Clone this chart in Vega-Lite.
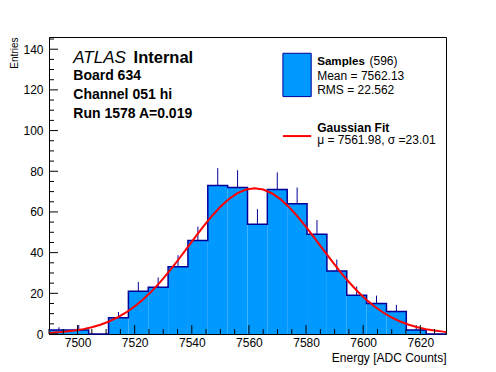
{
  "$schema": "https://vega.github.io/schema/vega-lite/v6.json",
  "width": 397,
  "height": 297,
  "autosize": "none",
  "padding": {"left": 49, "top": 37, "right": 50, "bottom": 38},
  "background": "white",
  "config": {
    "view": {"stroke": "black", "strokeWidth": 1},
    "axis": {"grid": false, "ticks": false, "domainColor": "black", "labelColor": "black", "labelFont": "Liberation Sans", "labelFontSize": 12, "titleFont": "Liberation Sans", "titleFontSize": 12, "titleFontWeight": "normal", "titleColor": "black"},
    "text": {"font": "Liberation Sans", "fontSize": 12, "align": "left", "baseline": "alphabetic", "color": "black"}
  },
  "datasets": {
    "hist": [
      {"x0": 7490, "x1": 7496.95, "c": 7493.475, "n": 2, "hi": 3.3},
      {"x0": 7496.95, "x1": 7503.9, "c": 7500.425, "n": 2, "hi": 4.4},
      {"x0": 7503.9, "x1": 7510.85, "c": 7507.375, "n": 0, "hi": 0},
      {"x0": 7510.85, "x1": 7517.8, "c": 7514.325, "n": 8, "hi": 10.83},
      {"x0": 7517.8, "x1": 7524.75, "c": 7521.275, "n": 21, "hi": 25.58},
      {"x0": 7524.75, "x1": 7531.7, "c": 7528.225, "n": 23, "hi": 27.8},
      {"x0": 7531.7, "x1": 7538.65, "c": 7535.175, "n": 33, "hi": 38.74},
      {"x0": 7538.65, "x1": 7545.6, "c": 7542.125, "n": 46, "hi": 52.78},
      {"x0": 7545.6, "x1": 7552.55, "c": 7549.075, "n": 73, "hi": 81.54},
      {"x0": 7552.55, "x1": 7559.5, "c": 7556.025, "n": 72, "hi": 80.49},
      {"x0": 7559.5, "x1": 7566.45, "c": 7562.975, "n": 54, "hi": 61.35},
      {"x0": 7566.45, "x1": 7573.4, "c": 7569.925, "n": 71, "hi": 79.43},
      {"x0": 7573.4, "x1": 7580.35, "c": 7576.875, "n": 64, "hi": 72.0},
      {"x0": 7580.35, "x1": 7587.3, "c": 7583.825, "n": 49, "hi": 56.0},
      {"x0": 7587.3, "x1": 7594.25, "c": 7590.775, "n": 31, "hi": 36.57},
      {"x0": 7594.25, "x1": 7601.2, "c": 7597.725, "n": 19, "hi": 23.36},
      {"x0": 7601.2, "x1": 7608.15, "c": 7604.675, "n": 15, "hi": 18.87},
      {"x0": 7608.15, "x1": 7615.1, "c": 7611.625, "n": 11, "hi": 14.32},
      {"x0": 7615.1, "x1": 7622.05, "c": 7618.575, "n": 2, "hi": 4.4},
      {"x0": 7622.05, "x1": 7629, "c": 7625.525, "n": 0, "hi": 0}
    ],
    "steps": [
      {"e": 7490, "n": 2}, {"e": 7496.95, "n": 2}, {"e": 7503.9, "n": 0}, {"e": 7510.85, "n": 8},
      {"e": 7517.8, "n": 21}, {"e": 7524.75, "n": 23}, {"e": 7531.7, "n": 33}, {"e": 7538.65, "n": 46},
      {"e": 7545.6, "n": 73}, {"e": 7552.55, "n": 72}, {"e": 7559.5, "n": 54}, {"e": 7566.45, "n": 71},
      {"e": 7573.4, "n": 64}, {"e": 7580.35, "n": 49}, {"e": 7587.3, "n": 31}, {"e": 7594.25, "n": 19},
      {"e": 7601.2, "n": 15}, {"e": 7608.15, "n": 11}, {"e": 7615.1, "n": 2}, {"e": 7622.05, "n": 0},
      {"e": 7629, "n": 0}
    ],
    "fit": [
      {"x": 7490, "y": 0.537}, {"x": 7493, "y": 0.8}, {"x": 7496, "y": 1.173}, {"x": 7499, "y": 1.691},
      {"x": 7502, "y": 2.396}, {"x": 7505, "y": 3.336}, {"x": 7508, "y": 4.569}, {"x": 7511, "y": 6.151},
      {"x": 7514, "y": 8.142}, {"x": 7517, "y": 10.595}, {"x": 7520, "y": 13.554}, {"x": 7523, "y": 17.051},
      {"x": 7526, "y": 21.086}, {"x": 7529, "y": 25.633}, {"x": 7532, "y": 30.638}, {"x": 7535, "y": 36.005},
      {"x": 7538, "y": 41.6}, {"x": 7541, "y": 47.248}, {"x": 7544, "y": 52.76}, {"x": 7547, "y": 57.927},
      {"x": 7550, "y": 62.526}, {"x": 7553, "y": 66.35}, {"x": 7556, "y": 69.222}, {"x": 7559, "y": 71.002},
      {"x": 7562, "y": 71.6}, {"x": 7565, "y": 70.987}, {"x": 7568, "y": 69.191}, {"x": 7571, "y": 66.305},
      {"x": 7574, "y": 62.468}, {"x": 7577, "y": 57.862}, {"x": 7580, "y": 52.69}, {"x": 7583, "y": 47.171},
      {"x": 7586, "y": 41.524}, {"x": 7589, "y": 35.932}, {"x": 7592, "y": 30.57}, {"x": 7595, "y": 25.571},
      {"x": 7598, "y": 21.027}, {"x": 7601, "y": 17.0}, {"x": 7604, "y": 13.512}, {"x": 7607, "y": 10.557},
      {"x": 7610, "y": 8.112}, {"x": 7613, "y": 6.129}, {"x": 7616, "y": 4.551}, {"x": 7619, "y": 3.322},
      {"x": 7622, "y": 2.385}, {"x": 7625, "y": 1.683}, {"x": 7628, "y": 1.167}, {"x": 7629, "y": 1.029}
    ],
    "xmajor": [{"v": 7500}, {"v": 7520}, {"v": 7540}, {"v": 7560}, {"v": 7580}, {"v": 7600}, {"v": 7620}],
    "xminor": [{"v": 7490}, {"v": 7495}, {"v": 7505}, {"v": 7510}, {"v": 7515}, {"v": 7525}, {"v": 7530}, {"v": 7535}, {"v": 7545}, {"v": 7550}, {"v": 7555}, {"v": 7565}, {"v": 7570}, {"v": 7575}, {"v": 7585}, {"v": 7590}, {"v": 7595}, {"v": 7605}, {"v": 7610}, {"v": 7615}, {"v": 7625}],
    "ymajor": [{"v": 0}, {"v": 20}, {"v": 40}, {"v": 60}, {"v": 80}, {"v": 100}, {"v": 120}, {"v": 140}],
    "yminor": [{"v": 5}, {"v": 10}, {"v": 15}, {"v": 25}, {"v": 30}, {"v": 35}, {"v": 45}, {"v": 50}, {"v": 55}, {"v": 65}, {"v": 70}, {"v": 75}, {"v": 85}, {"v": 90}, {"v": 95}, {"v": 105}, {"v": 110}, {"v": 115}, {"v": 125}, {"v": 130}, {"v": 135}, {"v": 145}],
    "boldnotes": [
      {"x": 7519.6, "y": 133.1, "t": "Internal", "s": 16.5},
      {"x": 7498.5, "y": 124.9, "t": "Board 634", "s": 14},
      {"x": 7498.5, "y": 115.4, "t": "Channel 051 hi", "s": 14},
      {"x": 7498.5, "y": 106.0, "t": "Run 1578 A=0.019", "s": 14},
      {"x": 7583.9, "y": 132.2, "t": "Samples", "s": 11.6},
      {"x": 7583.9, "y": 99.2, "t": "Gaussian Fit", "s": 12}
    ],
    "plainnotes": [
      {"x": 7602.2, "y": 132.2, "t": "(596)"},
      {"x": 7583.9, "y": 124.9, "t": "Mean = 7562.13"},
      {"x": 7583.9, "y": 118.0, "t": "RMS = 22.562"},
      {"x": 7583.9, "y": 93.4, "t": "μ = 7561.98, σ =23.01"}
    ],
    "italicnotes": [
      {"x": 7498.5, "y": 133.1, "t": "ATLAS"}
    ],
    "legbox": [{"x0": 7571.9, "x1": 7581.8, "y0": 116.7, "y1": 138.0}],
    "legline": [{"x0": 7571.9, "x1": 7581.8, "y": 97.3}]
  },
  "layer": [
    {
      "data": {"name": "hist"},
      "mark": {"type": "rect", "fill": "#0099ff", "stroke": null},
      "encoding": {
        "x": {"field": "x0", "type": "quantitative", "scale": {"domain": [7490, 7629], "nice": false, "zero": false},
          "axis": {"orient": "bottom", "title": "Energy [ADC Counts]", "titleAnchor": "end", "titleAlign": "right", "titlePadding": 4,
            "values": [7500, 7520, 7540, 7560, 7580, 7600, 7620], "format": "d", "labelFlush": false, "labelPadding": 3}},
        "x2": {"field": "x1"},
        "y": {"field": "n", "type": "quantitative", "scale": {"domain": [0, 146], "nice": false},
          "axis": {"orient": "left", "title": "Entries", "titleAnchor": "end", "titlePadding": 3, "titleFontSize": 10,
            "values": [0, 20, 40, 60, 80, 100, 120, 140], "labelFlush": false, "labelPadding": 6}},
        "y2": {"datum": 0}
      }
    },
    {
      "data": {"name": "steps"},
      "mark": {"type": "line", "interpolate": "step-after", "color": "#000099", "strokeWidth": 1.5},
      "encoding": {"x": {"field": "e", "type": "quantitative"}, "y": {"field": "n", "type": "quantitative"}}
    },
    {
      "data": {"name": "hist"},
      "transform": [{"filter": "datum.n > 0"}],
      "mark": {"type": "rule", "color": "#000099", "strokeWidth": 1},
      "encoding": {"x": {"field": "c", "type": "quantitative"}, "y": {"field": "n", "type": "quantitative"}, "y2": {"field": "hi"}}
    },
    {
      "data": {"name": "fit"},
      "mark": {"type": "line", "color": "#ff0000", "strokeWidth": 2},
      "encoding": {"x": {"field": "x", "type": "quantitative"}, "y": {"field": "y", "type": "quantitative"}}
    },
    {
      "data": {"name": "xmajor"},
      "mark": {"type": "rule", "color": "black", "strokeWidth": 1},
      "encoding": {"x": {"field": "v", "type": "quantitative"}, "y": {"datum": 0, "type": "quantitative"}, "y2": {"datum": 4.4}}
    },
    {
      "data": {"name": "xminor"},
      "mark": {"type": "rule", "color": "black", "strokeWidth": 1},
      "encoding": {"x": {"field": "v", "type": "quantitative"}, "y": {"datum": 0, "type": "quantitative"}, "y2": {"datum": 2.45}}
    },
    {
      "data": {"name": "ymajor"},
      "mark": {"type": "rule", "color": "black", "strokeWidth": 1},
      "encoding": {"y": {"field": "v", "type": "quantitative"}, "x": {"datum": 7490, "type": "quantitative"}, "x2": {"datum": 7493.15}}
    },
    {
      "data": {"name": "yminor"},
      "mark": {"type": "rule", "color": "black", "strokeWidth": 1},
      "encoding": {"y": {"field": "v", "type": "quantitative"}, "x": {"datum": 7490, "type": "quantitative"}, "x2": {"datum": 7491.75}}
    },
    {
      "data": {"name": "legbox"},
      "mark": {"type": "rect", "fill": "#0099ff", "stroke": "#000099", "strokeWidth": 1},
      "encoding": {"x": {"field": "x0", "type": "quantitative"}, "x2": {"field": "x1"}, "y": {"field": "y0", "type": "quantitative"}, "y2": {"field": "y1"}}
    },
    {
      "data": {"name": "legline"},
      "mark": {"type": "rule", "color": "#ff0000", "strokeWidth": 2},
      "encoding": {"x": {"field": "x0", "type": "quantitative"}, "x2": {"field": "x1"}, "y": {"field": "y", "type": "quantitative"}}
    },
    {
      "data": {"name": "boldnotes"},
      "mark": {"type": "text", "fontWeight": "bold"},
      "encoding": {
        "x": {"field": "x", "type": "quantitative"},
        "y": {"field": "y", "type": "quantitative"},
        "text": {"field": "t"},
        "size": {"field": "s", "type": "quantitative", "scale": null}
      }
    },
    {
      "data": {"name": "plainnotes"},
      "mark": {"type": "text", "fontSize": 12},
      "encoding": {
        "x": {"field": "x", "type": "quantitative"},
        "y": {"field": "y", "type": "quantitative"},
        "text": {"field": "t"}
      }
    },
    {
      "data": {"name": "italicnotes"},
      "mark": {"type": "text", "fontSize": 17, "fontStyle": "italic"},
      "encoding": {
        "x": {"field": "x", "type": "quantitative"},
        "y": {"field": "y", "type": "quantitative"},
        "text": {"field": "t"}
      }
    }
  ]
}
